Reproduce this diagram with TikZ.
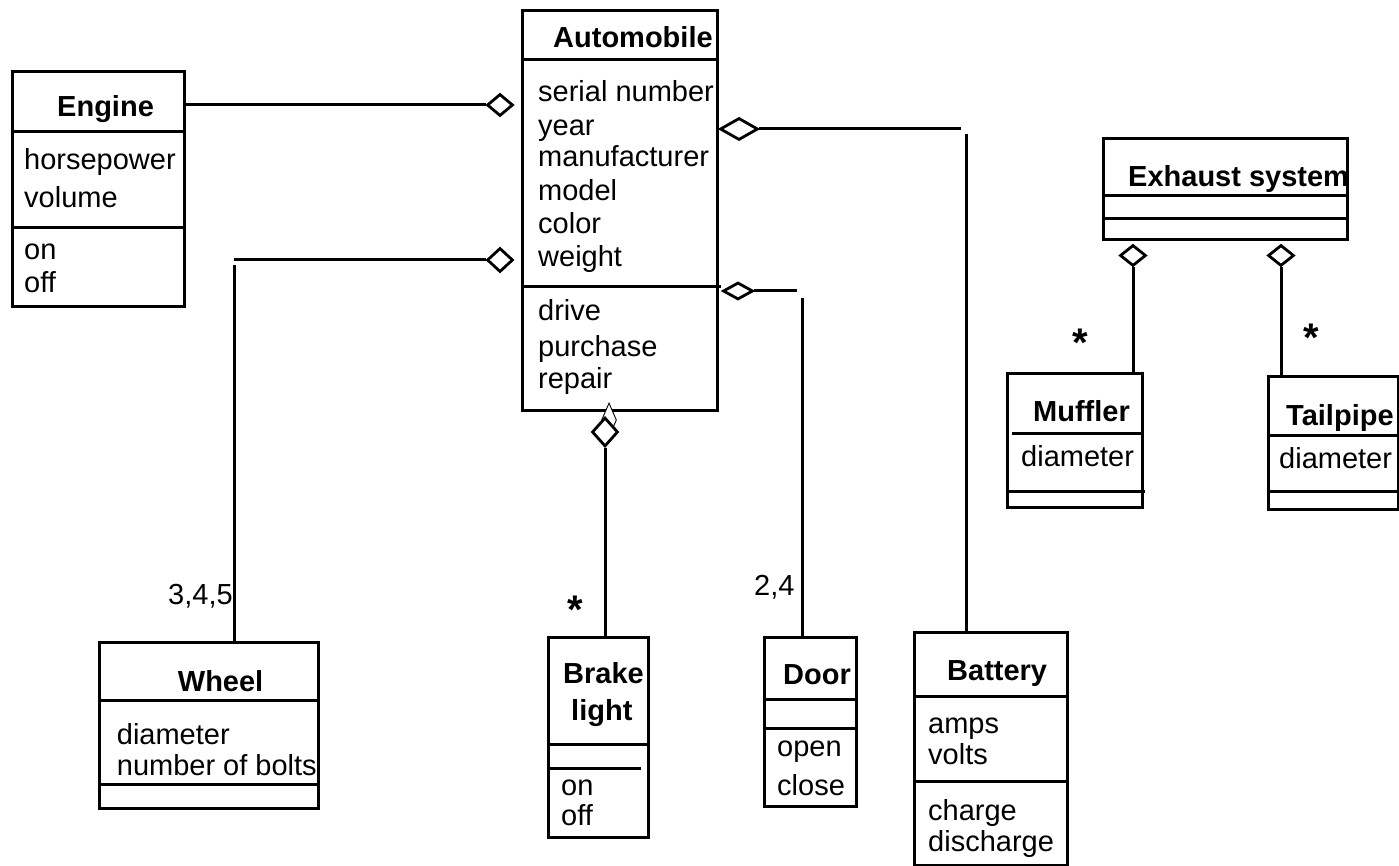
\documentclass[tikz,border=0pt]{standalone}
\usepackage{fontspec}
\setmainfont{Liberation Sans}
\usetikzlibrary{shapes.geometric}
\newcommand{\fsz}{\fontsize{29}{33}\selectfont}
\newcommand{\fbig}{\fontsize{40}{44}\selectfont}
\begin{document}
\begin{tikzpicture}[x=1pt,y=-1pt,
  box/.style={draw, line width=3pt, inner sep=0pt, anchor=north west},
  divider/.style={line width=3pt},
  conn/.style={line width=3pt},
  lbl/.style={anchor=base west, inner sep=0pt, font=\fsz},
  ttl/.style={anchor=base west, inner sep=0pt, font=\fsz\bfseries},
  mult/.style={anchor=base, inner sep=0pt, font=\fbig\bfseries},
  agg/.style={draw, diamond, fill=white, inner sep=0pt, line width=2.8pt},
  thinagg/.style={draw, diamond, fill=white, inner sep=0pt, line width=0.9pt},
]
\useasboundingbox (0,0) rectangle (1399,866);

% ---------------- Engine
\node[box, minimum width=172pt, minimum height=235pt] (engine) at (11,70) {};
\draw[divider] (11,131.7) -- (183,131.7);
\draw[divider] (11,228) -- (183,228);
\node[ttl] (engineT) at (57,116.7) {Engine};
\node[lbl] (engineA1) at (24,170) {horsepower};
\node[lbl] (engineA2) at (24,208) {volume};
\node[lbl] (engineO1) at (24,260) {on};
\node[lbl] (engineO2) at (24,293) {off};

% ---------------- Automobile
\node[box, minimum width=195pt, minimum height=400pt] (auto) at (521,9) {};
\draw[divider] (521,60) -- (716,60);
\draw[divider] (524,287) -- (721,287);
\node[ttl] (autoT) at (553,48) {Automobile};
\node[lbl] (autoA1) at (538,102) {serial number};
\node[lbl] (autoA2) at (538,135.5) {year};
\node[lbl] (autoA3) at (538,167) {manufacturer};
\node[lbl] (autoA4) at (538,200.5) {model};
\node[lbl] (autoA5) at (538,234) {color};
\node[lbl] (autoA6) at (538,267) {weight};
\node[lbl] (autoO1) at (538,320) {drive};
\node[lbl] (autoO2) at (538,356.5) {purchase};
\node[lbl] (autoO3) at (538,388) {repair};

% ---------------- Exhaust system
\node[box, minimum width=244pt, minimum height=101pt] (exhaust) at (1102,137) {};
\draw[divider] (1102,196) -- (1346,196);
\draw[divider] (1102,219) -- (1346,219);
\node[ttl] (exhaustT) at (1128,186.7) {Exhaust system};

% ---------------- Muffler
\node[box, minimum width=135pt, minimum height=134pt] (muffler) at (1006,372) {};
\draw[divider] (1012,433) -- (1141,433);
\draw[divider] (1006,491) -- (1145,491);
\node[ttl] (mufflerT) at (1033,421.7) {Muffler};
\node[lbl] (mufflerA1) at (1021,466.7) {diameter};

% ---------------- Tailpipe
\node[box, minimum width=130pt, minimum height=133pt] (tailpipe) at (1267,375) {};
\draw[divider] (1267,435) -- (1397,435);
\draw[divider] (1267,491) -- (1397,491);
\node[ttl] (tailpipeT) at (1286,425) {Tailpipe};
\node[lbl] (tailpipeA1) at (1279,468) {diameter};

% ---------------- Wheel
\node[box, minimum width=219pt, minimum height=166pt] (wheel) at (98,641) {};
\draw[divider] (98,700) -- (317,700);
\draw[divider] (98,784) -- (317,784);
\node[ttl] (wheelT) at (177.7,691.7) {Wheel};
\node[lbl] (wheelA1) at (116.7,744) {diameter};
\node[lbl] (wheelA2) at (116.7,775) {number of bolts};

% ---------------- Brake light
\node[box, minimum width=100pt, minimum height=200pt] (brake) at (547,636) {};
\draw[divider] (547,744) -- (647,744);
\draw[divider] (547,768) -- (641,768);
\node[ttl] (brakeT1) at (563,683) {Brake};
\node[ttl] (brakeT2) at (571,720) {light};
\node[lbl] (brakeO1) at (561,795) {on};
\node[lbl] (brakeO2) at (561,825) {off};

% ---------------- Door
\node[box, minimum width=92pt, minimum height=169pt] (door) at (763,636) {};
\draw[divider] (763,699) -- (855,699);
\draw[divider] (763,728) -- (855,728);
\node[ttl] (doorT) at (783,684) {Door};
\node[lbl] (doorO1) at (777,756) {open};
\node[lbl] (doorO2) at (777,795) {close};

% ---------------- Battery
\node[box, minimum width=153pt, minimum height=233pt] (battery) at (913,631) {};
\draw[divider] (913,696) -- (1066,696);
\draw[divider] (913,781) -- (1066,781);
\node[ttl] (batteryT) at (947,680) {Battery};
\node[lbl] (batteryA1) at (928,733) {amps};
\node[lbl] (batteryA2) at (928,764) {volts};
\node[lbl] (batteryO1) at (928,820) {charge};
\node[lbl] (batteryO2) at (928,851.5) {discharge};

% ---------------- Aggregation diamonds
\node[agg, minimum width=26pt, minimum height=22pt] (dEngine) at (500,105) {};
\node[agg, minimum width=26pt, minimum height=24pt] (dWheel) at (500,260) {};
\node[agg, minimum width=38pt, minimum height=22pt] (dBattery) at (739,129) {};
\node[agg, minimum width=30pt, minimum height=17pt] (dDoor) at (738,291) {};
\node[thinagg, minimum width=15pt, minimum height=34pt] (dBrakeBack) at (609,420) {};
\node[agg, minimum width=26pt, minimum height=29pt] (dBrake) at (605,432) {};
\node[agg, minimum width=26pt, minimum height=21pt] (dMuffler) at (1133,255.5) {};
\node[agg, minimum width=26pt, minimum height=21pt] (dTailpipe) at (1281,255.5) {};

% ---------------- Connectors
\coordinate (engineR) at (183,105);
\draw[conn] (engineR) -- (dEngine.west);

\coordinate (wheelC1) at (234,260);
\coordinate (wheelC2) at (234,265);
\draw[conn] (wheelC1) -- (dWheel.west);
\draw[conn] (wheelC2) -- (wheelC2 |- wheel.north);

\coordinate (batC1) at (961,129);
\coordinate (batC2) at (966.5,134);
\draw[conn] (dBattery.east) -- (batC1);
\draw[conn] (batC2) -- (batC2 |- battery.north);

\coordinate (doorC1) at (797,291);
\coordinate (doorC2) at (802,298);
\draw[conn] (dDoor.east) -- (doorC1);
\draw[conn] (doorC2) -- (doorC2 |- door.north);

\draw[conn] (dBrake.south) -- (dBrake.south |- brake.north);
\draw[conn] (dMuffler.south) -- (dMuffler.south |- muffler.north);
\draw[conn] (dTailpipe.south) -- (dTailpipe.south |- tailpipe.north);

% ---------------- Multiplicities
\node[lbl] (mWheel) at (168,604) {3,4,5};
\node[mult] (mBrake) at (575,623) {*};
\node[lbl] (mDoor) at (754,595) {2,4};
\node[mult] (mMuffler) at (1080,356) {*};
\node[mult] (mTailpipe) at (1311,351) {*};
\end{tikzpicture}
\end{document}
